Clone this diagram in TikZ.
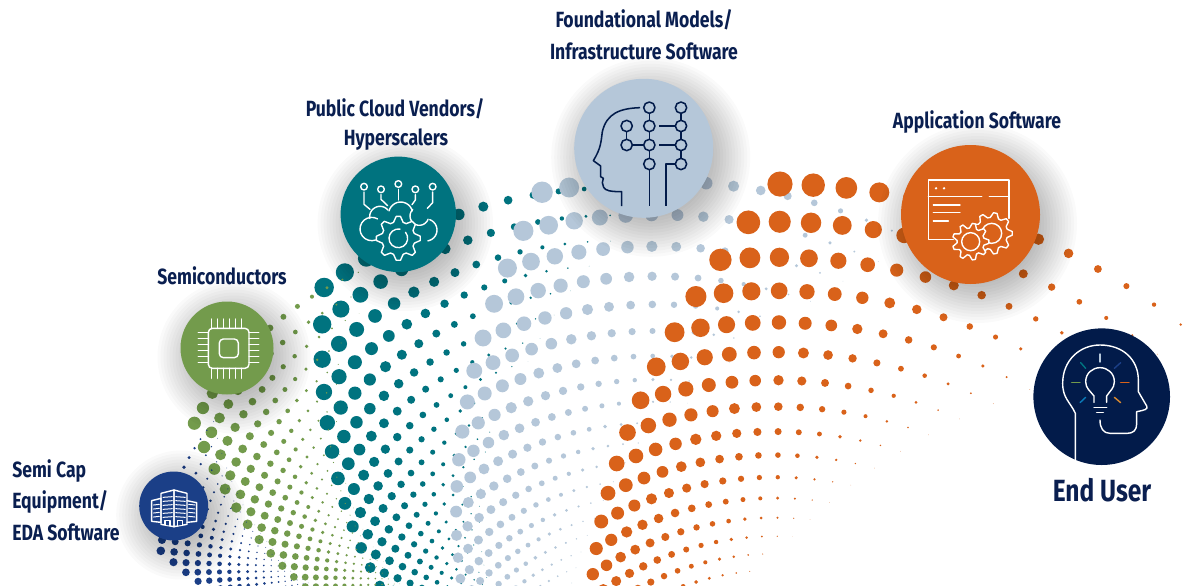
\documentclass[tikz,border=0pt]{standalone}
\usepackage{fontspec}
\newfontfamily\lblfont[FakeStretch=0.8]{Fira Sans}
\definecolor{navyc}{HTML}{021B4A}
\definecolor{lblc}{HTML}{0A1F50}
\definecolor{bluec}{HTML}{1B3F87}
\definecolor{greenc}{HTML}{739B4C}
\definecolor{tealc}{HTML}{00737F}
\definecolor{greyc}{HTML}{B5C7D9}
\definecolor{orangec}{HTML}{D9621A}
\tikzset{
  lbl/.style={font=\lblfont\bfseries\fontsize{16.5}{16.5}\selectfont,text=lblc,inner sep=0pt,anchor=center},
  lblw/.style={lbl,anchor=west},
  wline/.style={draw=white,line width=1.05pt,line cap=round,line join=round},
  nline/.style={draw=navyc,line width=1.15pt,line join=round},
  disc/.style={circle,inner sep=0pt,minimum size=#1*0.75pt,outer sep=0pt}
}
% cx cy r0 theta0 dtheta kappa nmax colour imax
\newcommand\dotfield[9]{%
  \foreach \ii in {0,...,#9}{%
    \pgfmathsetmacro\rrow{#3*pow(0.9425,\ii)}%
    \pgfmathsetmacro\tstart{#4-\ii*#5}%
    \foreach \nn in {0,...,#7}{%
      \pgfmathsetmacro\tt{(\tstart+\nn*#5)*57.29578}%
      \pgfmathsetmacro\dx{#1+\rrow*sin(\tt)}%
      \pgfmathsetmacro\dy{#2-\rrow*cos(\tt)}%
      \pgfmathsetmacro\dr{\rrow*#6*(1-\nn/(#7+0.5))}%
      \pgfmathtruncatemacro\keep{(\dy<600)&&(\dx>-10)&&(\dx<1210)&&(\dr>0.2)?1:0}%
      \ifnum\keep=1 \fill[#8] (\dx,\dy) circle[radius=\dr];\fi
    }%
  }%
}
\newcommand\softshadow[3]{%
  \foreach \kk in {0,...,13}{%
    \pgfmathsetmacro\sr{#3+30-\kk*3}%
    \fill[black,opacity=0.018] (#1+7,#2+9) circle[radius=\sr];
  }%
}
% gear: cx cy outer inner-root teeth
\newcommand\gearpath[5]{%
  plot[samples at={0,...,\numexpr#5*4-1\relax}] ({#1+(mod(\x,4)<2?#3:#4)*cos(360*(\x-0.5+0.0)/(#5*4))},{#2+(mod(\x,4)<2?#3:#4)*sin(360*(\x-0.5)/(#5*4))}) -- cycle
}
\newcommand\lobe[5]{\draw[wline] plot[domain=#4:#5,samples=14,smooth] ({#1+#3*cos(\x)},{#2+#3*sin(\x)});}
\begin{document}
\begin{tikzpicture}[x=0.75pt,y=-0.75pt]
\useasboundingbox (0,0) rectangle (1201,585);
\clip (0,0) rectangle (1201,585);
\fill[white] (0,0) rectangle (1201,585);
% dot fields
\dotfield{615}{663}{475}{-0.659}{0.054}{0.0205}{14}{tealc}{22}
\dotfield{656}{766}{585}{-0.196}{0.047}{0.0183}{14}{greyc}{22}
\dotfield{775}{840}{656}{0.0076}{0.0507}{0.0192}{14}{orangec}{22}
\dotfield{491}{581}{336}{-1.082}{0.052}{0.0196}{14}{greenc}{22}
\dotfield{392}{570}{232}{-1.488}{0.047}{0.0186}{14}{bluec}{24}
% shadows
\softshadow{173.7}{506}{34.5}
\softshadow{227}{348}{46.5}
\softshadow{398.3}{214.3}{57.7}
\softshadow{643.7}{148.3}{69.5}
\softshadow{970.5}{214.5}{69.5}
% discs
\node[disc=69,fill=bluec] (cBlue) at (173.7,506) {};
\node[disc=93,fill=greenc] (cGreen) at (227,348) {};
\node[disc=115.4,fill=tealc] (cTeal) at (398.3,214.3) {};
\node[disc=139,fill=greyc] (cGrey) at (643.7,148.3) {};
\node[disc=139,fill=orangec] (cOrange) at (970.5,214.5) {};
\node[disc=136.6,fill=navyc] (cUser) at (1101.7,396.7) {};
% building icon (zoom origin 125,460)
\begin{scope}[shift={(125,460)},x=0.25pt,y=-0.25pt]
  \draw[wline] (80,122)--(108,115)--(108,187)--(80,184)--cycle;
  \draw[wline] (108,100)--(147,90)--(147,200)--(108,193)--cycle;
  \draw[wline] (147,90)--(186,100)--(186,193)--(147,200)--cycle;
  \draw[wline] (186,122)--(215,128)--(215,184)--(186,187);
  \foreach \yy in {112,124,136,148,160,172}{
    \draw[wline,line width=0.75pt] (114,\yy)--(142,\yy-2);
    \draw[wline,line width=0.75pt] (152,\yy-2)--(181,\yy);
  }
  \foreach \yy in {135,147,159,171}{
    \draw[wline,line width=0.75pt] (86,\yy)--(103,\yy-2);
    \draw[wline,line width=0.75pt] (191,\yy-2)--(210,\yy);
  }
  \draw[wline,fill=bluec] (120,194)--(120,182)--(135,182)--(135,197);
  \draw[wline,fill=bluec] (157,197)--(157,182)--(172,182)--(172,194);
\end{scope}
% chip icon (zoom origin 170,295)
\begin{scope}[shift={(170,295)},x=0.25pt,y=-0.25pt]
  \draw[wline,rounded corners=3pt] (115,100) rectangle (237,220);
  \draw[wline,rounded corners=3pt] (148,132) rectangle (205,188);
  \foreach \p in {124,142,160,178,196,214}{
    \draw[wline] (\p*1+0,72)--(\p*1+0,100);
    \draw[wline] (\p*1+0,220)--(\p*1+0,250);
  }
  \foreach \p in {113,131,149,167,185,203}{
    \draw[wline] (85,\p)--(115,\p);
    \draw[wline] (237,\p)--(266,\p);
  }
\end{scope}
% cloud icon (zoom origin 330,150)
\begin{scope}[shift={(330,150)},x=0.25pt,y=-0.25pt]
  \foreach \px/\py in {102/110,153/118,205/102,256/118,308/110}{
    \draw[wline] (\px,\py) circle[radius=10];
  }
  \draw[wline] (102,126)--(102,163)--(120,178);
  \draw[wline] (153,134)--(153,148)--(173,167);
  \draw[wline] (205,118)--(205,150);
  \draw[wline] (256,134)--(256,150)--(246,164);
  \draw[wline] (308,126)--(308,158)--(292,175);
  \lobe{125}{237}{35}{70}{300}
  \lobe{150}{200}{31}{170}{320}
  \lobe{212}{192}{36}{195}{345}
  \lobe{268}{198}{28}{225}{20}
  \lobe{288}{240}{33}{-70}{80}
  \draw[wline,fill=tealc] \gearpath{205}{265}{66}{50}{8};
  \lobe{205}{265}{28}{-40}{280}
\end{scope}
% brain icon (zoom origin 565,70)
\begin{scope}[shift={(565,70)},x=0.25pt,y=-0.25pt]
  \draw[nline] (225,113) .. controls (165,115) and (125,130) .. (112,185) .. controls (108,215) and (108,235) .. (85,272) -- (107,288) -- (107,320) -- (115,325) -- (112,338) -- (116,352) .. controls (122,362) and (135,365) .. (170,365) -- (170,408);
  \draw[nline] (253,113)--(253,408);
  \draw[nline] (348,113)--(348,282);
  \draw[nline] (185,168)--(185,225)--(253,225);
  \draw[nline] (283,168)--(348,168);
  \draw[nline] (283,225)--(348,225);
  \draw[nline] (348,282)--(303,282)--(303,408);
  \foreach \px/\py in {185/168,185/225,253/113,253/168,253/225,253/282,348/113,348/168,348/225,348/282}{
    \draw[nline,fill=greyc] (\px,\py) circle[radius=17];
  }
\end{scope}
% window icon (zoom origin 890,140)
\begin{scope}[shift={(890,140)},x=0.25pt,y=-0.25pt]
  \draw[wline] (190,298)--(115,298)--(115,120)--(357,120)--(357,235);
  \draw[wline] (115,170)--(275,170);
  \draw[wline] (298,170)--(357,170);
  \fill[white] (138,145) circle[radius=4];
  \fill[white] (162,145) circle[radius=4];
  \draw[wline] (130,195)--(210,195);
  \draw[wline] (130,218)--(210,218);
  \draw[wline] (130,243)--(175,243);
  \draw[wline,fill=orangec] \gearpath{305}{280}{62}{48}{9};
  \draw[wline] (305,280) circle[radius=30];
  \draw[wline,fill=orangec] \gearpath{242}{305}{55}{41}{9};
  \draw[wline] (242,305) circle[radius=27];
\end{scope}
% end-user icon (zoom origin 1020,320)
\begin{scope}[shift={(1020,320)},x=0.25pt,y=-0.25pt]
  \draw[wline] (166,420) -- (166,280) .. controls (150,245) and (128,235) .. (128,190) .. controls (128,120) and (180,75) .. (240,75) .. controls (310,75) and (355,120) .. (355,180) -- (355,215) -- (380,258) .. controls (385,268) and (375,270) .. (350,275) -- (350,312) .. controls (350,330) and (340,340) .. (322,340) -- (270,340) .. controls (250,340) and (240,325) .. (240,300);
  \draw[wline] (222,247) -- (222,228) .. controls (210,212) and (197,205) .. (197,185) .. controls (197,160) and (217,143) .. (240,143) .. controls (263,143) and (283,160) .. (283,185) .. controls (283,205) and (270,212) .. (260,228) -- (260,247);
  \draw[wline] (222,262)--(260,262);
  \draw[wline] (230,278)--(250,278);
  \draw[wline,draw=greyc] (240,102)--(240,126);
  \draw[wline,draw=tealc] (182,128)--(197,145);
  \draw[wline,draw=greenc] (155,187)--(180,187);
  \draw[wline,draw={rgb,255:red,10;green,122;blue,184}] (180,248)--(197,232);
  \draw[wline,draw={rgb,255:red,217;green,138;blue,48}] (283,232)--(302,248);
  \draw[wline,draw=orangec] (302,187)--(327,187);
  \draw[wline,draw=bluec] (283,145)--(302,128);
\end{scope}
% labels
\node[lbl] (tFound1) at (644,20) {Foundational Models/};
\node[lbl] (tFound2) at (644,51) {Infrastructure Software};
\node[lbl] (tCloud1) at (395,109) {Public Cloud Vendors/};
\node[lbl] (tCloud2) at (396,140) {Hyperscalers};
\node[lbl] (tSemi) at (222,276) {Semiconductors};
\node[lbl] (tApp) at (977,122) {Application Software};
\node[lblw] (tCap1) at (12,471) {Semi Cap};
\node[lblw] (tCap2) at (12,502) {Equipment/};
\node[lblw] (tCap3) at (12,532) {EDA Software};
\node[lbl,font=\lblfont\bfseries\fontsize{23}{23}\selectfont] (tUser) at (1102,490) {End User};
\end{tikzpicture}
\end{document}
